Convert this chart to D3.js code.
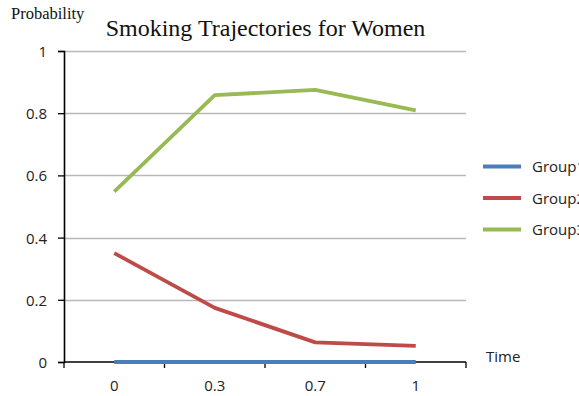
<!DOCTYPE html>
<html>
<head>
<meta charset="utf-8">
<script src="https://cdn.jsdelivr.net/npm/d3@7"></script>
<style>
  html, body { margin: 0; padding: 0; background: #fff; overflow: hidden; }
  svg { display: block; }
</style>
</head>
<body>
<svg id="chart" width="579" height="396"></svg>
<script>
// Time points and group probabilities
const timeLabels = ["0", "0.3", "0.7", "1"];
const seriesNames = ["Group1", "Group2", "Group3"];
const group1 = [0, 0, 0, 0];
const group2 = [0.35, 0.174, 0.063, 0.052];
const group3 = [0.548, 0.858, 0.875, 0.809];
const yTicks = [0, 0.2, 0.4, 0.6, 0.8, 1];
const colors = ["#4A7EBB", "#BE4B48", "#98B954"];

const series = [group1, group2, group3];

const svg = d3.select("#chart");
const plotLeft = 64, plotRight = 466, plotTop = 51, plotBottom = 362;
const sansFont = "'Open Sans', 'Noto Sans', sans-serif";
const serifFont = "'Liberation Serif', 'DejaVu Serif', serif";
const labelSize = 15;

const x = d3.scaleBand().domain(timeLabels).range([plotLeft, plotRight]).padding(0);
const y = d3.scaleLinear().domain([0, 1]).range([plotBottom, plotTop]);

// Horizontal gridlines
svg.append("g")
  .selectAll("line")
  .data(yTicks.filter(d => d > 0))
  .join("line")
  .attr("x1", plotLeft).attr("x2", plotRight)
  .attr("y1", d => Math.round(y(d)) + 0.5).attr("y2", d => Math.round(y(d)) + 0.5)
  .attr("stroke", "#B8B8B8").attr("stroke-width", 1.3);

// Y axis
const yAxis = svg.append("g")
  .attr("transform", `translate(${plotLeft},0)`)
  .call(d3.axisLeft(y).tickValues(yTicks).tickFormat(d3.format("")).tickSize(6).tickPadding(11));
yAxis.select(".domain").attr("stroke", "#000").attr("stroke-width", 1.6);
yAxis.selectAll(".tick line").attr("stroke", "#000").attr("stroke-width", 1.3);
yAxis.selectAll("text")
  .attr("font-family", sansFont).attr("font-size", labelSize).attr("fill", "#222")
  .attr("dy", "0.36em");

// X axis: ticks between categories
const xAxis = svg.append("g")
  .attr("transform", `translate(0,${plotBottom})`);
xAxis.append("line")
  .attr("x1", plotLeft).attr("x2", plotRight).attr("y1", 0).attr("y2", 0)
  .attr("stroke", "#000").attr("stroke-width", 1.6);
const boundaries = timeLabels.map(d => x(d)).concat([plotRight]);
xAxis.selectAll("line.tk")
  .data(boundaries)
  .join("line")
  .attr("class", "tk")
  .attr("x1", d => d).attr("x2", d => d).attr("y1", 0).attr("y2", 6)
  .attr("stroke", "#000").attr("stroke-width", 1.3);
xAxis.selectAll("text.lbl")
  .data(timeLabels)
  .join("text")
  .attr("class", "lbl")
  .attr("x", d => x(d) + x.bandwidth() / 2)
  .attr("y", 29)
  .attr("text-anchor", "middle")
  .attr("font-family", sansFont).attr("font-size", labelSize).attr("fill", "#222")
  .text(d => d);

// Series lines
const line = d3.line()
  .x((d, i) => x(timeLabels[i]) + x.bandwidth() / 2)
  .y(d => y(d));

svg.append("g")
  .selectAll("path")
  .data(series)
  .join("path")
  .attr("d", d => line(d))
  .attr("fill", "none")
  .attr("stroke", (d, i) => colors[i])
  .attr("stroke-width", 3.8)
  .attr("stroke-linejoin", "round");

// Legend
const legend = svg.append("g");
seriesNames.forEach((name, i) => {
  const ly = 166.5 + i * 31.5;
  legend.append("line")
    .attr("x1", 483).attr("x2", 521).attr("y1", ly).attr("y2", ly)
    .attr("stroke", colors[i]).attr("stroke-width", 3.8);
  legend.append("text")
    .attr("x", 532).attr("y", ly + 5.5)
    .attr("font-family", sansFont).attr("font-size", labelSize).attr("fill", "#222")
    .text(name);
});

// Axis titles and chart title
svg.append("text")
  .attr("x", 486).attr("y", 362)
  .attr("font-family", sansFont).attr("font-size", labelSize).attr("fill", "#222")
  .text("Time");

svg.append("text")
  .attr("x", 11).attr("y", 19)
  .attr("font-family", serifFont).attr("font-size", 16.5).attr("fill", "#111")
  .text("Probability");

svg.append("text")
  .attr("x", 265.5).attr("y", 36)
  .attr("text-anchor", "middle")
  .attr("font-family", serifFont).attr("font-size", 24).attr("fill", "#111")
  .text("Smoking Trajectories for Women");
</script>
</body>
</html>
